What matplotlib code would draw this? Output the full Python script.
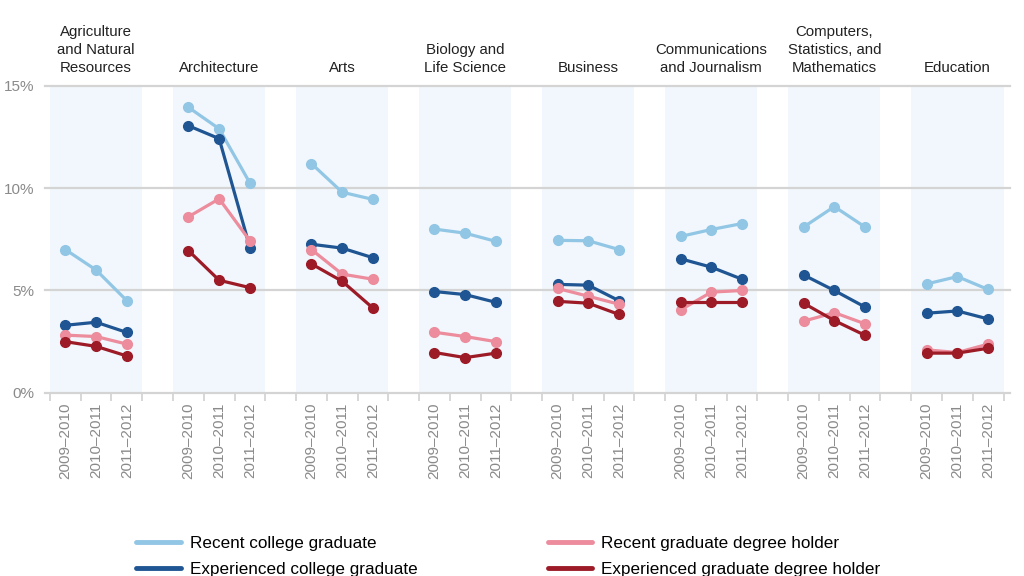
import numpy as np
import matplotlib
matplotlib.use("Agg")
import matplotlib.pyplot as plt

majors = ["Agriculture\nand Natural\nResources", "Architecture", "Arts",
          "Biology and\nLife Science", "Business",
          "Communications\nand Journalism",
          "Computers,\nStatistics, and\nMathematics", "Education"]
years = ["2009\u20132010", "2010\u20132011", "2011\u20132012"]

# unemployment rate (%) per major, three periods each
recent_college = [[7.0, 6.0, 4.5], [13.95, 12.9, 10.25], [11.2, 9.8, 9.45],
                  [8.0, 7.8, 7.4], [7.45, 7.43, 7.0], [7.64, 7.98, 8.27],
                  [8.1, 9.1, 8.1], [5.32, 5.68, 5.05]]
experienced_college = [[3.3, 3.45, 2.95], [13.05, 12.42, 7.1], [7.26, 7.07, 6.6],
                       [4.95, 4.8, 4.42], [5.3, 5.26, 4.5], [6.55, 6.14, 5.55],
                       [5.76, 5.0, 4.19], [3.89, 4.0, 3.61]]
recent_grad = [[2.82, 2.75, 2.38], [8.6, 9.48, 7.43], [7.0, 5.8, 5.55],
               [2.96, 2.75, 2.5], [5.1, 4.72, 4.33], [4.05, 4.92, 5.0],
               [3.5, 3.92, 3.37], [2.1, 1.97, 2.38]]
experienced_grad = [[2.5, 2.27, 1.8], [6.95, 5.5, 5.14], [6.3, 5.45, 4.14],
                    [1.97, 1.72, 1.94], [4.47, 4.38, 3.83], [4.45, 4.45, 4.45],
                    [4.38, 3.53, 2.81], [1.94, 1.94, 2.18]]

series = [
    ("Recent college graduate", recent_college, "#92c6e5"),
    ("Experienced college graduate", experienced_college, "#1f5592"),
    ("Recent graduate degree holder", recent_grad, "#ec8c9c"),
    ("Experienced graduate degree holder", experienced_grad, "#9c1b27"),
]

plt.rcParams["font.family"] = "Liberation Sans"

GRID = "#d4d4d4"
GREY = "#8a8a8a"
SHADE = "#f1f7fc"

fig = plt.figure(figsize=(10.24, 5.76), dpi=100)
ax = fig.add_axes([0.044, 0.318, 0.942, 0.533])

step = 4
xs_all, labels_all, minor = [], [], []
for i, name in enumerate(majors):
    x0 = i * step
    xs = np.arange(3) + x0
    ax.axvspan(x0 - 0.5, x0 + 2.5, ymin=0, ymax=0.995, color=SHADE, lw=0, zorder=0)
    for label, data, color in series:
        ax.plot(xs, data[i], color=color, lw=2.3, marker="o", ms=7,
                solid_capstyle="round", zorder=3)
    ax.text(x0 + 1, 1.035, name, transform=ax.get_xaxis_transform(),
            ha="center", va="bottom", fontsize=10.8, linespacing=1.38,
            color="#222222")
    xs_all.extend(xs)
    labels_all.extend(years)
    minor.extend([x0 - 0.5, x0 + 0.5, x0 + 1.5, x0 + 2.5])

for yv in [0, 5, 10, 15]:
    ax.axhline(yv, color=GRID, lw=1.6, zorder=1, clip_on=False)

ax.set_xlim(-0.66, 30.7)
ax.set_ylim(0, 15)
ax.set_yticks([0, 5, 10, 15])
ax.set_yticklabels(["0%", "5%", "10%", "15%"], color=GREY, fontsize=11)
ax.tick_params(axis="y", length=0, pad=8)
ax.set_xticks(xs_all)
ax.set_xticklabels(labels_all, rotation=90, color=GREY, fontsize=11)
ax.tick_params(axis="x", which="major", length=0, pad=7)
ax.set_xticks(minor, minor=True)
ax.tick_params(axis="x", which="minor", length=6, width=1.3, color=GRID)
for s in ax.spines.values():
    s.set_visible(False)

handles = [plt.Line2D([], [], color=c, lw=3.5, solid_capstyle="round") for _, _, c in series]
fig.legend(handles, [s[0] for s in series], ncol=2, frameon=False,
           loc="upper left", bbox_to_anchor=(0.118, 0.097),
           prop={"size": 12.3},
           handlelength=2.6, handletextpad=0.55, columnspacing=7.6,
           labelspacing=0.65)

fig.savefig("out.png", dpi=100)
